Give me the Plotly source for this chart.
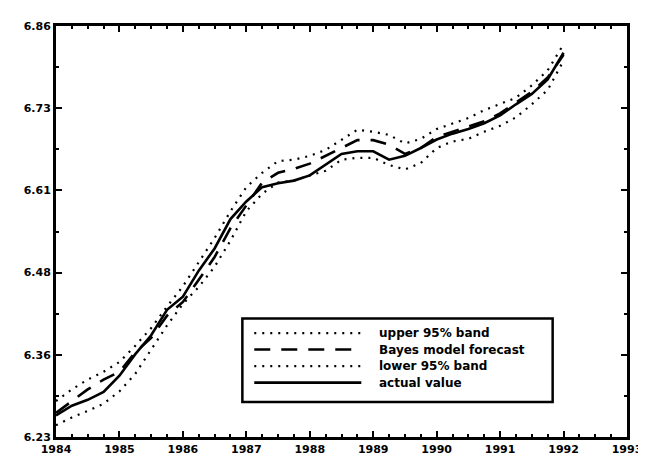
import plotly.graph_objects as go

# Quarterly observation times (1984Q1 .. 1992Q1)
quarters = [1984.00, 1984.25, 1984.50, 1984.75, 1985.00, 1985.25, 1985.50, 1985.75,
            1986.00, 1986.25, 1986.50, 1986.75, 1987.00, 1987.25, 1987.50, 1987.75,
            1988.00, 1988.25, 1988.50, 1988.75, 1989.00, 1989.25, 1989.50, 1989.75,
            1990.00, 1990.25, 1990.50, 1990.75, 1991.00, 1991.25, 1991.50, 1991.75,
            1992.00]

actual_value = [6.263, 6.278, 6.287, 6.299, 6.324, 6.357, 6.386, 6.425,
                6.445, 6.485, 6.519, 6.564, 6.591, 6.613, 6.619, 6.623,
                6.631, 6.647, 6.664, 6.668, 6.668, 6.655, 6.661, 6.673,
                6.686, 6.695, 6.702, 6.711, 6.723, 6.740, 6.756, 6.778,
                6.819]

bayes_forecast = [6.267, 6.285, 6.303, 6.318, 6.330, 6.360, 6.382, 6.416,
                  6.437, 6.471, 6.506, 6.550, 6.586, 6.620, 6.635, 6.641,
                  6.649, 6.661, 6.673, 6.685, 6.685, 6.678, 6.664, 6.673,
                  6.690, 6.698, 6.705, 6.714, 6.726, 6.743, 6.759, 6.781,
                  6.816]

upper_band = [6.285, 6.303, 6.318, 6.330, 6.345, 6.370, 6.397, 6.430,
              6.461, 6.497, 6.535, 6.576, 6.613, 6.635, 6.653, 6.655,
              6.661, 6.670, 6.685, 6.701, 6.698, 6.693, 6.680, 6.687,
              6.702, 6.711, 6.719, 6.731, 6.740, 6.750, 6.769, 6.792,
              6.832]

lower_band = [6.248, 6.260, 6.270, 6.281, 6.300, 6.327, 6.364, 6.401,
              6.434, 6.460, 6.491, 6.531, 6.576, 6.603, 6.620, 6.623,
              6.631, 6.638, 6.655, 6.658, 6.658, 6.647, 6.640, 6.650,
              6.673, 6.683, 6.687, 6.698, 6.707, 6.720, 6.740, 6.762,
              6.807]

x_tick_vals = [1984, 1985, 1986, 1987, 1988, 1989, 1990, 1991, 1992, 1993]
x_tick_text = ["1984", "1985", "1986", "1987", "1988", "1989", "1990", "1991", "1992", "1993"]
y_tick_vals = [6.23, 6.356, 6.482, 6.608, 6.734, 6.86]
y_tick_text = ["6.23", "6.36", "6.48", "6.61", "6.73", "6.86"]

legend_labels = ["upper 95% band", "Bayes model forecast", "lower 95% band", "actual value"]

DOT = "2px,6px"
DASH = "16px,11px"
FONT = "DejaVu Sans"

fig = go.Figure()
series = [
    (upper_band, legend_labels[0], DOT, 2.2),
    (bayes_forecast, legend_labels[1], DASH, 2.6),
    (lower_band, legend_labels[2], DOT, 2.2),
    (actual_value, legend_labels[3], "solid", 2.6),
]
for ys, name, dash, w in series:
    fig.add_trace(go.Scatter(x=quarters, y=ys, mode="lines", name=name,
                             line=dict(color="black", width=w, dash=dash),
                             showlegend=False))

# Legend drawn as box + samples + text (paper coords)
L, R, T, B = 48, 624, 14, 437
def px(xp):
    return (xp - L) / (R - L)
def py(yp):
    return (B - yp) / (B - T)

fig.add_shape(type="rect", xref="paper", yref="paper",
              x0=px(236), x1=px(549), y0=py(401), y1=py(315),
              line=dict(color="black", width=2.5), fillcolor="white", layer="above")
rows = [330, 347, 364, 381]
for (ys, name, dash, w), yr in zip(series, rows):
    fig.add_shape(type="line", xref="paper", yref="paper",
                  x0=px(248), x1=px(356), y0=py(yr), y1=py(yr),
                  line=dict(color="black", width=w, dash=dash), layer="above")
    fig.add_annotation(xref="paper", yref="paper", x=px(372), y=py(yr),
                       text=name, showarrow=False, xanchor="left", yanchor="middle",
                       font=dict(family=FONT, size=12, color="black", weight="bold"))

axis_common = dict(showline=True, linecolor="black", linewidth=3, mirror="allticks",
                   ticks="inside", ticklen=6, tickwidth=2, tickcolor="black",
                   showgrid=False, zeroline=False,
                   tickfont=dict(family=FONT, size=11, color="black", weight="bold"))

fig.update_xaxes(range=[1984, 1993], tickvals=x_tick_vals, ticktext=x_tick_text,
                 minor=dict(ticks="inside", ticklen=3, tickwidth=1.5, tickcolor="black", dtick=0.25, tick0=1984),
                 **axis_common)
fig.update_yaxes(range=[6.23, 6.86], tickvals=y_tick_vals, ticktext=y_tick_text,
                 minor=dict(ticks="inside", ticklen=3, tickwidth=1.5, tickcolor="black", dtick=0.063, tick0=6.23),
                 **axis_common)

fig.update_layout(width=646, height=460, margin=dict(l=L, r=646 - R, t=T, b=460 - B),
                  paper_bgcolor="white", plot_bgcolor="white", showlegend=False)

fig.write_html("out.html")
